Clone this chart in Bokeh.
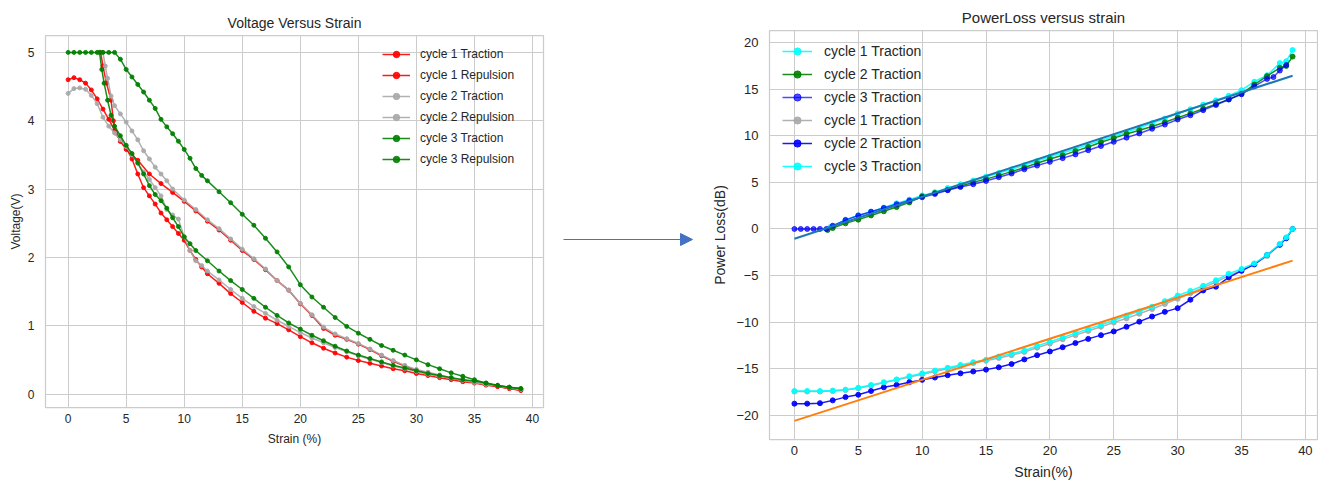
from bokeh.plotting import figure
from bokeh.layouts import row, column
from bokeh.models import FixedTicker, Range1d, Legend, LegendItem, Arrow, NormalHead
from bokeh.embed import file_html
from bokeh.resources import INLINE

FONT = "Liberation Sans"
TEXT = "#262626"
GRID = "#cccccc"

# ------------------------------------------------------------------
# Left chart data: Voltage versus strain
# ------------------------------------------------------------------
c1_trac_x = [0, 0.5, 1, 1.5, 2, 2.5, 3, 3.5, 4, 4.5, 5, 5.5, 6, 6.5, 7, 7.5, 8, 8.5, 9, 9.5,
             10, 10.5, 11, 11.5, 12, 13, 14, 15, 16, 17, 18, 19, 20, 21, 22, 23, 24, 25, 26,
             27, 28, 29, 30, 31, 32, 33, 34, 35, 36, 37, 38, 39]
c1_trac_y = [4.60, 4.63, 4.60, 4.55, 4.45, 4.32, 4.17, 4.02, 3.86, 3.70, 3.60, 3.44, 3.22, 3.02,
             2.90, 2.78, 2.65, 2.55, 2.45, 2.35, 2.25, 2.10, 1.97, 1.86, 1.76, 1.62, 1.47, 1.34,
             1.21, 1.11, 1.03, 0.94, 0.84, 0.75, 0.67, 0.60, 0.54, 0.49, 0.45, 0.41, 0.37, 0.34,
             0.30, 0.27, 0.24, 0.21, 0.18, 0.16, 0.13, 0.11, 0.08, 0.05]

c1_rep_x = [39, 38, 37, 36, 35, 34, 33, 32, 31, 30, 29, 28, 27, 26, 25, 24, 23, 22, 21, 20, 19,
            18, 17, 16, 15, 14, 13, 12, 11, 10, 9, 8, 7, 6, 5, 4.5, 4.1, 3.9, 3.7, 3.3, 3.0, 2.8]
c1_rep_y = [0.06, 0.08, 0.11, 0.14, 0.17, 0.20, 0.23, 0.27, 0.31, 0.35, 0.41, 0.48, 0.56, 0.65,
            0.73, 0.80, 0.86, 0.96, 1.15, 1.32, 1.52, 1.66, 1.82, 1.97, 2.10, 2.25, 2.40, 2.53,
            2.68, 2.82, 2.95, 3.08, 3.22, 3.42, 3.58, 3.70, 3.82, 4.00, 4.30, 4.55, 4.80, 5.00]

c2_trac_x = [0, 0.5, 1, 1.5, 2, 2.5, 3, 3.5, 4, 4.5, 5, 5.5, 6, 6.5, 7, 7.5, 8, 8.5, 9, 9.5,
             10, 10.5, 11, 11.5, 12, 13, 14, 15, 16, 17, 18, 19, 20, 21, 22, 23, 24, 25, 26,
             27, 28, 29, 30, 31, 32, 33, 34, 35, 36, 37, 38, 39]
c2_trac_y = [4.40, 4.47, 4.48, 4.46, 4.37, 4.25, 4.05, 3.92, 3.82, 3.72, 3.62, 3.50, 3.38, 3.25,
             3.14, 3.02, 2.90, 2.70, 2.62, 2.56, 2.30, 2.10, 1.95, 1.88, 1.80, 1.67, 1.53, 1.40,
             1.28, 1.18, 1.08, 0.99, 0.90, 0.82, 0.75, 0.68, 0.62, 0.56, 0.51, 0.46, 0.41, 0.37,
             0.33, 0.29, 0.26, 0.23, 0.20, 0.17, 0.14, 0.12, 0.09, 0.07]

c2_rep_x = [39, 38, 37, 36, 35, 34, 33, 32, 31, 30, 29, 28, 27, 26, 25, 24, 23, 22, 21, 20, 19,
            18, 17, 16, 15, 14, 13, 12, 11, 10, 9, 8.5, 8, 7.5, 7, 6.5, 6, 5.5, 5, 4.5, 4, 3.7,
            3.4, 3.2, 3.0]
c2_rep_y = [0.07, 0.09, 0.12, 0.15, 0.18, 0.21, 0.24, 0.28, 0.32, 0.36, 0.42, 0.49, 0.57, 0.66,
            0.74, 0.81, 0.88, 0.98, 1.16, 1.33, 1.52, 1.66, 1.83, 1.98, 2.12, 2.27, 2.42, 2.55,
            2.70, 2.84, 3.00, 3.12, 3.22, 3.32, 3.44, 3.56, 3.72, 3.85, 3.98, 4.10, 4.22, 4.36,
            4.62, 4.80, 5.00]

c3_trac_x = [0, 0.5, 1, 1.5, 2, 2.5, 3, 3.5, 4, 4.5, 5, 5.5, 6, 6.5, 7, 7.5, 8, 8.5, 9, 9.5,
             10, 10.5, 11, 11.5, 12, 13, 14, 15, 16, 17, 18, 19, 20, 21, 22, 23, 24, 25, 26,
             27, 28, 29, 30, 31, 32, 33, 34, 35, 36, 37, 38, 39]
c3_trac_y = [5.00, 5.00, 5.00, 5.00, 5.00, 5.00, 5.00, 5.00, 5.00, 4.90, 4.75, 4.64, 4.53, 4.42,
             4.30, 4.18, 4.02, 3.91, 3.81, 3.70, 3.58, 3.45, 3.30, 3.20, 3.12, 2.96, 2.80, 2.63,
             2.47, 2.28, 2.08, 1.86, 1.60, 1.42, 1.27, 1.12, 0.99, 0.89, 0.80, 0.71, 0.64, 0.57,
             0.50, 0.43, 0.37, 0.31, 0.26, 0.21, 0.16, 0.12, 0.10, 0.08]

c3_rep_x = [39, 38, 37, 36, 35, 34, 33, 32, 31, 30, 29, 28, 27, 26, 25, 24, 23, 22, 21, 20, 19,
            18, 17, 16, 15, 14, 13, 12, 11, 10.5, 10, 9.5, 9, 8.5, 8, 7.5, 7, 6.5, 6, 5.5, 5,
            4.5, 4, 3.7, 3.4, 3.1, 2.9, 2.7]
c3_rep_y = [0.08, 0.10, 0.13, 0.16, 0.19, 0.21, 0.24, 0.27, 0.30, 0.34, 0.38, 0.42, 0.47, 0.52,
            0.57, 0.63, 0.70, 0.78, 0.86, 0.95, 1.04, 1.15, 1.27, 1.40, 1.53, 1.66, 1.80, 1.95,
            2.10, 2.20, 2.30, 2.45, 2.58, 2.72, 2.83, 2.92, 3.05, 3.22, 3.38, 3.52, 3.64, 3.78,
            3.92, 4.08, 4.30, 4.55, 4.75, 5.00]

left_names = ["cycle 1 Traction", "cycle 1 Repulsion", "cycle 2 Traction",
              "cycle 2 Repulsion", "cycle 3 Traction", "cycle 3 Repulsion"]
left_colors = ["#ff0000", "#ff0000", "#a9a9a9", "#a9a9a9", "#008000", "#008000"]
left_series = [(c1_trac_x, c1_trac_y), (c1_rep_x, c1_rep_y), (c2_trac_x, c2_trac_y),
               (c2_rep_x, c2_rep_y), (c3_trac_x, c3_trac_y), (c3_rep_x, c3_rep_y)]
left_xticks = [0, 5, 10, 15, 20, 25, 30, 35, 40]
left_yticks = [0, 1, 2, 3, 4, 5]

# ------------------------------------------------------------------
# Right chart data: Power loss versus strain
# ------------------------------------------------------------------
up_c1_x = [2.8, 3, 4, 5, 6, 7, 8, 9, 10, 11, 12, 13, 14, 15, 16, 17, 18, 19, 20, 21, 22, 23, 24,
           25, 26, 27, 28, 29, 30, 31, 32, 33, 34, 35, 36, 37, 38, 38.5, 39]
up_c1_y = [0.2, 0.3, 1.0, 1.45, 1.85, 2.3, 2.75, 3.15, 3.6, 3.95, 4.4, 4.8, 5.2, 5.6, 6.0, 6.4,
           6.85, 7.3, 7.75, 8.15, 8.6, 9.05, 9.5, 9.95, 10.4, 10.85, 11.35, 11.85, 12.4, 12.85,
           13.35, 13.8, 14.3, 14.9, 15.8, 16.5, 17.8, 18.0, 19.2]

up_c2_x = [2.6, 3, 4, 5, 6, 7, 8, 9, 10, 11, 12, 13, 14, 15, 16, 17, 18, 19, 20, 21, 22, 23, 24,
           25, 26, 27, 28, 29, 30, 31, 32, 33, 34, 35, 36, 37, 38, 38.5, 39]
up_c2_y = [-0.1, 0.1, 0.6, 1.0, 1.45, 1.9, 2.35, 2.85, 3.5, 3.85, 4.2, 4.6, 5.0, 5.35, 5.75,
           6.15, 6.6, 7.05, 7.5, 7.9, 8.35, 8.8, 9.3, 9.75, 10.2, 10.6, 11.0, 11.45, 11.95, 12.4,
           12.9, 13.4, 13.9, 14.5, 15.5, 16.4, 17.3, 17.5, 18.5]

up_c3_x = [0, 0.5, 1, 1.5, 2, 2.5, 3, 4, 5, 6, 7, 8, 9, 10, 11, 12, 13, 14, 15, 16, 17, 18, 19,
           20, 21, 22, 23, 24, 25, 26, 27, 28, 29, 30, 31, 32, 33, 34, 35, 36, 37, 37.5, 38, 38.5]
up_c3_y = [0.0, 0.0, 0.0, 0.0, 0.0, 0.0, 0.35, 0.95, 1.45, 1.85, 2.25, 2.65, 3.05, 3.4, 3.75,
           4.15, 4.5, 4.8, 5.15, 5.55, 5.95, 6.4, 6.8, 7.2, 7.6, 8.0, 8.45, 8.9, 9.35, 9.8, 10.25,
           10.75, 11.2, 11.75, 12.2, 12.75, 13.3, 13.9, 14.45, 15.3, 16.1, 16.3, 17.0, 17.6]

lo_x = [0, 1, 2, 3, 4, 5, 6, 7, 8, 9, 10, 11, 12, 13, 14, 15, 16, 17, 18, 19, 20, 21, 22, 23,
        24, 25, 26, 27, 28, 29, 30, 31, 32, 33, 34, 35, 36, 37, 38, 38.5, 39]
lo_c1_y = [-17.45, -17.45, -17.45, -17.4, -17.3, -17.1, -16.8, -16.5, -16.2, -15.9, -15.6,
           -15.3, -15.0, -14.7, -14.4, -14.15, -13.85, -13.55, -13.2, -12.75, -12.3, -11.85,
           -11.4, -10.95, -10.5, -10.05, -9.6, -9.1, -8.6, -8.05, -7.5, -6.9, -6.3, -5.7, -5.0,
           -4.45, -3.8, -2.9, -1.7, -1.0, 0.0]
lo_c2_y = [-18.75, -18.75, -18.7, -18.4, -18.05, -17.8, -17.4, -17.0, -16.75, -16.45, -16.2,
           -15.95, -15.7, -15.5, -15.3, -15.1, -14.85, -14.5, -14.0, -13.55, -13.15, -12.7,
           -12.25, -11.8, -11.4, -11.0, -10.5, -9.95, -9.4, -8.9, -8.5, -7.6, -6.6, -6.2, -5.2,
           -4.5, -3.8, -2.8, -1.7, -1.0, 0.0]
lo_c3_y = [-17.4, -17.4, -17.4, -17.35, -17.25, -17.05, -16.75, -16.45, -16.15, -15.8, -15.5,
           -15.2, -14.9, -14.6, -14.3, -14.05, -13.7, -13.4, -13.05, -12.55, -12.1, -11.65,
           -11.2, -10.75, -10.3, -9.8, -9.3, -8.85, -8.35, -7.75, -7.15, -6.65, -6.1, -5.5, -4.8,
           -4.3, -3.7, -2.8, -1.6, -0.9, 0.0]

fit_x = [0, 39]
fit_upper_y = [-1.05, 16.45]
fit_lower_y = [-20.6, -3.4]

right_names = ["cycle 1 Traction", "cycle 2 Traction", "cycle 3 Traction",
               "cycle 1 Traction", "cycle 2 Traction", "cycle 3 Traction"]
right_colors = ["#00ffff", "#008000", "#0000ff", "#a9a9a9", "#0000ff", "#00ffff"]
right_series = [(up_c1_x, up_c1_y), (up_c2_x, up_c2_y), (up_c3_x, up_c3_y),
                (lo_x, lo_c1_y), (lo_x, lo_c2_y), (lo_x, lo_c3_y)]
right_xticks = [0, 5, 10, 15, 20, 25, 30, 35, 40]
right_yticks = [-20, -15, -10, -5, 0, 5, 10, 15, 20]


def style(p, xticks, yticks, tick_size, label_size):
    p.outline_line_color = GRID
    p.outline_line_width = 1.25
    for g in (p.xgrid, p.ygrid):
        g.grid_line_color = GRID
        g.grid_line_width = 1
    p.xaxis.ticker = FixedTicker(ticks=xticks)
    p.yaxis.ticker = FixedTicker(ticks=yticks)
    p.yaxis.major_label_overrides = {t: (str(t) if t >= 0 else "\u2212" + str(-t)) for t in yticks}
    for ax in (p.xaxis, p.yaxis):
        ax.axis_line_color = None
        ax.major_tick_line_color = None
        ax.minor_tick_line_color = None
        ax.major_label_text_font = FONT
        ax.major_label_text_font_size = tick_size
        ax.major_label_text_color = TEXT
        ax.axis_label_text_font = FONT
        ax.axis_label_text_font_size = label_size
        ax.axis_label_text_font_style = "normal"
        ax.axis_label_text_color = TEXT
        ax.major_label_standoff = 5
    p.title.text_font = FONT
    p.title.text_font_style = "normal"
    p.title.text_color = TEXT
    p.title.align = "center"


# ---------------- left figure ----------------
p1 = figure(frame_width=498, frame_height=372, output_backend="svg", toolbar_location=None,
            x_range=Range1d(-1.95, 40.95), y_range=Range1d(-0.197, 5.247),
            min_border_left=45, min_border_right=10, min_border_top=35, min_border_bottom=70,
            title="Voltage Versus Strain", x_axis_label="Strain (%)", y_axis_label="Voltage(V)")
style(p1, left_xticks, left_yticks, "12px", "12px")
p1.title.text_font_size = "14px"
p1.title.standoff = 9
p1.xaxis.major_label_standoff = 0
p1.xaxis.axis_label_standoff = 6
p1.yaxis.axis_label_standoff = 2

items1 = []
for name, col, (xs, ys) in zip(left_names, left_colors, left_series):
    lr = p1.line(xs, ys, line_color=col, line_width=1.5, line_alpha=0.9)
    sr = p1.scatter(xs, ys, size=4, fill_color=col, line_color=col, alpha=0.9)
    items1.append(LegendItem(label=name, renderers=[lr, sr]))

leg1 = Legend(items=items1, location=(337, 240), padding=4, margin=0, spacing=5,
              glyph_width=28, glyph_height=16, label_height=16, label_standoff=10,
              label_text_font=FONT, label_text_font_size="12px", label_text_color=TEXT,
              background_fill_alpha=0, border_line_color=None)
p1.add_layout(leg1)

# ---------------- middle arrow ----------------
arrow_y = 239
arrow_x0, arrow_x1 = 10, 139
pm = figure(frame_width=156, frame_height=478, output_backend="svg", toolbar_location=None,
            x_range=Range1d(0, 156), y_range=Range1d(0, 478),
            min_border=0, outline_line_color=None)
pm.axis.visible = False
pm.grid.visible = False
pm.add_layout(Arrow(end=NormalHead(size=12, fill_color="#4472C4", line_color="#4472C4"),
                    x_start=arrow_x0, y_start=arrow_y, x_end=arrow_x1, y_end=arrow_y,
                    line_color="#4472C4", line_width=1))

# ---------------- right figure ----------------
p2 = figure(frame_width=548, frame_height=409, output_backend="svg", toolbar_location=None,
            x_range=Range1d(-1.95, 40.95), y_range=Range1d(-22.6, 21.3),
            min_border_left=60, min_border_right=1, min_border_top=30, min_border_bottom=39,
            title="PowerLoss versus strain", x_axis_label="Strain(%)", y_axis_label="Power Loss(dB)")
style(p2, right_xticks, right_yticks, "13px", "14px")
p2.title.text_font_size = "15px"
p2.title.standoff = 10
p2.xaxis.major_label_standoff = 0
p2.xaxis.axis_label_standoff = 6
p2.yaxis.axis_label_standoff = 5

items2 = []
alphas = [0.9, 0.9, 0.7, 0.9, 0.9, 0.9]
for name, col, a, (xs, ys) in zip(right_names, right_colors, alphas, right_series):
    lr = p2.line(xs, ys, line_color=col, line_width=1.5, line_alpha=a)
    sr = p2.scatter(xs, ys, size=5, fill_color=col, line_color=col, alpha=a)
    items2.append(LegendItem(label=name, renderers=[lr, sr]))

p2.line(fit_x, fit_upper_y, line_color="#1f77b4", line_width=2)
p2.line(fit_x, fit_lower_y, line_color="#ff7f0e", line_width=2)

leg2 = Legend(items=items2, location=(13, 264), padding=4, margin=0, spacing=5,
              glyph_width=30, glyph_height=18, label_height=18, label_standoff=12,
              label_text_font=FONT, label_text_font_size="14px", label_text_color=TEXT,
              background_fill_alpha=0, border_line_color=None)
p2.add_layout(leg2)

layout = row(column(p1), column(pm), column(p2))
open("out.html", "w").write(file_html(layout, INLINE))
